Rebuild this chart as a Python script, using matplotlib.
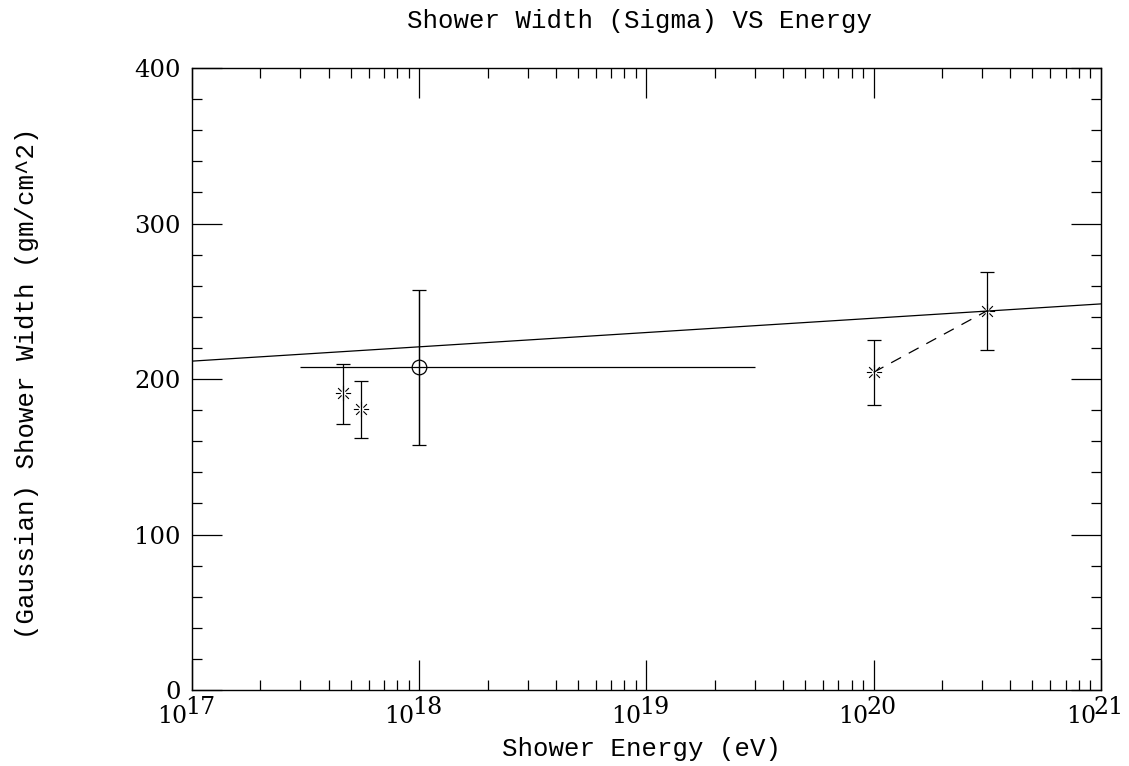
import numpy as np
import matplotlib
matplotlib.use("Agg")
import matplotlib.pyplot as plt
from matplotlib.path import Path
from matplotlib.transforms import blended_transform_factory, offset_copy

# measurements: energy (eV), sigma (gm/cm^2) with asymmetric errors
star_energy = [4.6e17, 5.55e17, 1.0e20, 3.16e20]
star_sigma = [191, 180.5, 204.3, 243.9]
star_err_lo = [20, 18.5, 20.8, 25.3]
star_err_hi = [18.6, 18.0, 21.0, 24.9]

circ_energy = 1.0e18
circ_sigma = 207.7
circ_err_lo, circ_err_hi = 50.2, 49.3
circ_energy_range = (3.0e17, 3.0e19)

# the two high-energy points are joined with a dashed line
joined = [2, 3]

# linear fit in log10(E): sigma = a + b * (log10(E) - 17)
fit_a, fit_b = 211.5, 9.2

x_decades = [17, 18, 19, 20, 21]
y_ticks = [0, 100, 200, 300, 400]

# burst marker: eight rays with an open centre
verts, codes = [], []
for ang in np.arange(8) * np.pi / 4:
    c, s = np.cos(ang), np.sin(ang)
    verts += [(0.35 * c, 0.35 * s), (c, s)]
    codes += [Path.MOVETO, Path.LINETO]
burst = Path(verts, codes)

fig = plt.figure(figsize=(11.29, 7.66), dpi=100)
ax = fig.add_axes([0.170, 0.0992, 0.805, 0.812])

lw = 0.9
ax.errorbar(star_energy, star_sigma, yerr=[star_err_lo, star_err_hi], fmt="none",
            ecolor="black", elinewidth=lw, capsize=5.2, capthick=lw)
ax.plot(star_energy, star_sigma, linestyle="none", marker=burst, markersize=11,
        markeredgecolor="black", markeredgewidth=0.8, color="black")
ax.plot([star_energy[i] for i in joined], [star_sigma[i] for i in joined],
        color="black", linewidth=lw, linestyle=(0, (9, 7)))

ax.errorbar([circ_energy], [circ_sigma],
            xerr=[[circ_energy - circ_energy_range[0]], [circ_energy_range[1] - circ_energy]],
            yerr=[[circ_err_lo], [circ_err_hi]], fmt="none", ecolor="black",
            elinewidth=lw, capsize=0)
ax.errorbar([circ_energy], [circ_sigma], yerr=[[circ_err_lo], [circ_err_hi]], fmt="none",
            ecolor="black", elinewidth=lw, capsize=5.2, capthick=lw)
ax.plot([circ_energy], [circ_sigma], linestyle="none", marker="o", markersize=10.5,
        markerfacecolor="none", markeredgecolor="black", markeredgewidth=0.9)

logE = np.array([x_decades[0], x_decades[-1]], dtype=float)
ax.plot(10 ** logE, fit_a + fit_b * (logE - 17), color="black", linewidth=lw)

ax.set_xscale("log")
ax.set_xlim(10.0 ** x_decades[0], 10.0 ** x_decades[-1])
ax.set_ylim(y_ticks[0], y_ticks[-1])
ax.set_yticks(y_ticks)
ax.set_yticks(np.arange(0, 401, 20), minor=True)
ax.set_xticks([10.0 ** d for d in x_decades])
ax.set_xticks([m * 10.0 ** d for d in x_decades[:-1] for m in range(2, 10)], minor=True)
ax.tick_params(which="both", direction="in", top=True, right=True, width=0.9, color="black")
ax.tick_params(which="major", length=21.5)
ax.tick_params(which="minor", length=7.2)
for sp in ax.spines.values():
    sp.set_linewidth(1.0)

ax.set_xticklabels([])
ax.set_yticklabels([str(v) for v in y_ticks], fontfamily="DejaVu Serif", fontsize=17.5)
ax.tick_params(axis="y", pad=8)

# decade labels with a full-size raised exponent
tr = blended_transform_factory(ax.transData, ax.transAxes)
base_tr = offset_copy(tr, fig=fig, x=-5, y=-33, units="dots")
exp_tr = offset_copy(tr, fig=fig, x=-7, y=-24, units="dots")
for d in x_decades:
    ax.text(10.0 ** d, 0, "10", transform=base_tr, ha="right", va="baseline",
            fontfamily="DejaVu Serif", fontsize=17)
    ax.text(10.0 ** d, 0, str(d), transform=exp_tr, ha="left", va="baseline",
            fontfamily="DejaVu Serif", fontsize=17)

mono = "Liberation Mono"
fig.text(0.566, 0.973, "Shower Width (Sigma) VS Energy", ha="center", va="center",
         fontfamily=mono, fontsize=18.5)
fig.text(0.568, 0.022, "Shower Energy (eV)", ha="center", va="center",
         fontfamily=mono, fontsize=18.5)
fig.text(0.024, 0.5, "(Gaussian) Shower Width (gm/cm^2)", ha="center", va="center",
         rotation=90, fontfamily=mono, fontsize=18.5)

fig.savefig("out.png", dpi=100, facecolor="white")
